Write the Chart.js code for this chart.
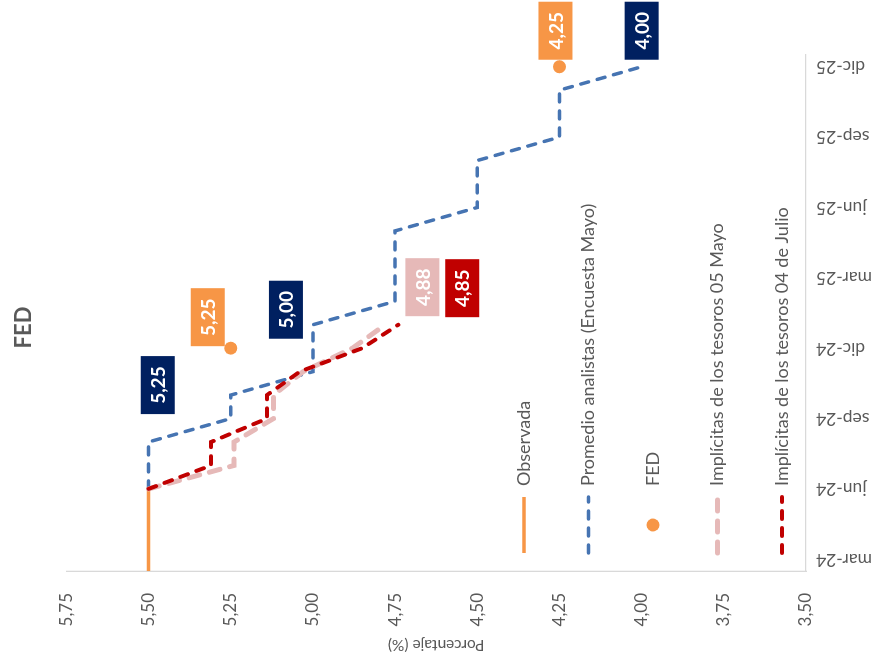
<!DOCTYPE html>
<html><head><meta charset="utf-8">
<script src="https://cdn.jsdelivr.net/npm/chart.js@4/dist/chart.umd.min.js"></script>
<style>
html,body{margin:0;padding:0;width:883px;height:655px;overflow:hidden;background:#fff;}
#wrap{position:absolute;left:114px;top:-114px;width:655px;height:883px;transform:rotate(-90deg);transform-origin:50% 50%;}
</style></head><body>
<div id="wrap"><canvas id="c" width="655" height="883"></canvas></div>
<script>
// Categories (monthly); feb-24 only carries the start of the observed series and is outside the axis range
const months = ['feb-24','mar-24','abr-24','may-24','jun-24','jul-24','ago-24','sep-24','oct-24','nov-24','dic-24',
  'ene-25','feb-25','mar-25','abr-25','may-25','jun-25','jul-25','ago-25','sep-25','oct-25','nov-25','dic-25'];
const firstMonth = 'mar-24';
const tickMonths = ['mar','jun','sep','dic'];
const valueTicks = [3.50, 3.75, 4.00, 4.25, 4.50, 4.75, 5.00, 5.25, 5.50, 5.75];

const observada = [5.50, 5.50, 5.50, 5.50, 5.50];
const promedio  = [null, null, null, null, 5.50, 5.50, 5.50, 5.25, 5.25, 5.00, 5.00,
  5.00, 4.75, 4.75, 4.75, 4.75, 4.50, 4.50, 4.50, 4.25, 4.25, 4.25, 4.00];
const fed       = [null, null, null, null, null, null, null, null, null, null, 5.25,
  null, null, null, null, null, null, null, null, null, null, null, 4.25];
const implMayo  = [null, null, null, null, 5.50, 5.24, 5.24, 5.12, 5.12, 5.03, 4.88, 4.78];
const implJulio = [null, null, null, null, 5.50, 5.31, 5.31, 5.14, 5.14, 5.04, 4.85, 4.74];

const seriesNames = ['Observada', 'Promedio analistas (Encuesta Mayo)', 'FED',
  'Implícitas de los tesoros 05 Mayo', 'Implícitas de los tesoros 04 de Julio'];

const FONT = 'Lato, "Open Sans", sans-serif';
const GREY = '#595959';

// value labels: dataset index, month, box colour, offset from the point (px)
const valueLabels = [
  {ds: 1, month: 'oct-24', bg: '#002060', dx: 10, dy: -73},
  {ds: 1, month: 'ene-25', bg: '#002060', dx: 15, dy: -27},
  {ds: 1, month: 'dic-25', bg: '#002060', dx: 36, dy: 0},
  {ds: 2, month: 'dic-24', bg: '#F79646', dx: 31, dy: -23},
  {ds: 2, month: 'dic-25', bg: '#F79646', dx: 36, dy: -4},
  {ds: 3, month: 'dic-24', bg: '#E6B9B8', dx: 61, dy: 70},
  {ds: 4, month: 'dic-24', bg: '#C00000', dx: 60, dy: 100}
];

const fmt = v => v.toFixed(2).replace('.', ',');

const labelPlugin = {
  id: 'valueBoxes',
  afterDatasetsDraw(chart) {
    const ctx = chart.ctx;
    ctx.save();
    valueLabels.forEach(l => {
      const i = months.indexOf(l.month);
      const meta = chart.getDatasetMeta(l.ds);
      const pt = meta.data[i];
      const v = chart.data.datasets[l.ds].data[i];
      const cx = pt.x + l.dx, cy = pt.y + l.dy;
      const w = 58, h = 34;
      ctx.fillStyle = l.bg;
      ctx.fillRect(cx - w / 2, cy - h / 2, w, h);
      ctx.fillStyle = '#ffffff';
      ctx.font = 'bold 19px ' + FONT;
      ctx.textAlign = 'center';
      ctx.textBaseline = 'middle';
      ctx.fillText(fmt(v), cx, cy + 1);
    });
    ctx.restore();
  }
};

const legendPlugin = {
  id: 'innerLegend',
  afterDatasetsDraw(chart) {
    const ctx = chart.ctx;
    const a = chart.chartArea;
    const ds = chart.data.datasets;
    const n = ds.length;
    ctx.save();
    ds.forEach((d, k) => {
      const y = a.bottom - 24 - 64.5 * (n - 1 - k);
      const x0 = a.left + 18, x1 = a.left + 74;
      if (d.showLine === false) {
        ctx.fillStyle = d.pointBackgroundColor;
        ctx.beginPath();
        ctx.arc((x0 + x1) / 2, y, d.pointRadius, 0, Math.PI * 2);
        ctx.fill();
      } else {
        ctx.strokeStyle = d.borderColor;
        ctx.lineWidth = d.borderWidth;
        ctx.lineCap = d.borderCapStyle || 'butt';
        ctx.setLineDash(d.borderDash || []);
        ctx.beginPath();
        ctx.moveTo(x0, y);
        ctx.lineTo(x1, y);
        ctx.stroke();
        ctx.setLineDash([]);
      }
      ctx.fillStyle = GREY;
      ctx.font = '18px ' + FONT;
      ctx.textAlign = 'left';
      ctx.textBaseline = 'middle';
      ctx.fillText(d.label, a.left + 85, y);
    });
    ctx.restore();
  }
};

new Chart(document.getElementById('c'), {
  type: 'line',
  data: {
    labels: months,
    datasets: [
      {label: seriesNames[0], data: observada, borderColor: '#F79646', borderWidth: 3.5,
       pointRadius: 0, tension: 0, order: 5},
      {label: seriesNames[1], data: promedio, borderColor: '#4674B2', borderWidth: 3.5,
       borderDash: [8, 9], borderCapStyle: 'round', pointRadius: 0, tension: 0, order: 4},
      {label: seriesNames[2], data: fed, showLine: false, pointRadius: 6.5,
       pointBackgroundColor: '#F79646', pointBorderWidth: 0, borderColor: '#F79646', order: 3},
      {label: seriesNames[3], data: implMayo, borderColor: '#E6B9B8', borderWidth: 5,
       borderDash: [11, 10], borderCapStyle: 'round', pointRadius: 0, tension: 0, order: 2},
      {label: seriesNames[4], data: implJulio, borderColor: '#C00000', borderWidth: 4,
       borderDash: [8, 9], borderCapStyle: 'round', pointRadius: 0, tension: 0, order: 1}
    ]
  },
  options: {
    responsive: false,
    animation: false,
    devicePixelRatio: 1,
    layout: {padding: {left: 0, right: 0, top: 0, bottom: 0}},
    plugins: {
      legend: {display: false},
      tooltip: {enabled: false},
      title: {display: true, text: 'FED', color: GREY,
        font: {family: FONT, size: 22, weight: 'bold'}, padding: {top: 11, bottom: 29}}
    },
    scales: {
      x: {
        type: 'category', min: firstMonth, offset: true,
        grid: {display: false, drawTicks: false},
        border: {display: true, color: '#D9D9D9', width: 1.3},
        ticks: {autoSkip: false, minRotation: 90, maxRotation: 90, padding: 10, color: GREY,
          font: {family: FONT, size: 17.5},
          callback: function (v) { const l = this.getLabelForValue(v); return tickMonths.includes(l.slice(0, 3)) ? l : ''; }},
        afterFit(s) { s.height = 77; }
      },
      y: {
        type: 'linear', min: valueTicks[0], max: valueTicks[valueTicks.length - 1],
        grid: {display: false, drawTicks: false},
        border: {display: true, color: '#D9D9D9', width: 1.3},
        afterBuildTicks(s) { s.ticks = valueTicks.map(v => ({value: v})); },
        ticks: {padding: 22, color: GREY, font: {family: FONT, size: 17}, callback: v => fmt(v)},
        title: {display: true, text: 'Porcentaje (%)', color: GREY, font: {family: FONT, size: 15.5},
          padding: {top: 1, bottom: 0}},
        afterFit(s) { s.width = 84; }
      },
      yR: {
        position: 'right', display: true,
        grid: {display: false}, border: {display: false}, ticks: {display: false},
        afterFit(s) { s.width = 55; }
      }
    }
  },
  plugins: [labelPlugin, legendPlugin]
});
</script>
</body></html>
